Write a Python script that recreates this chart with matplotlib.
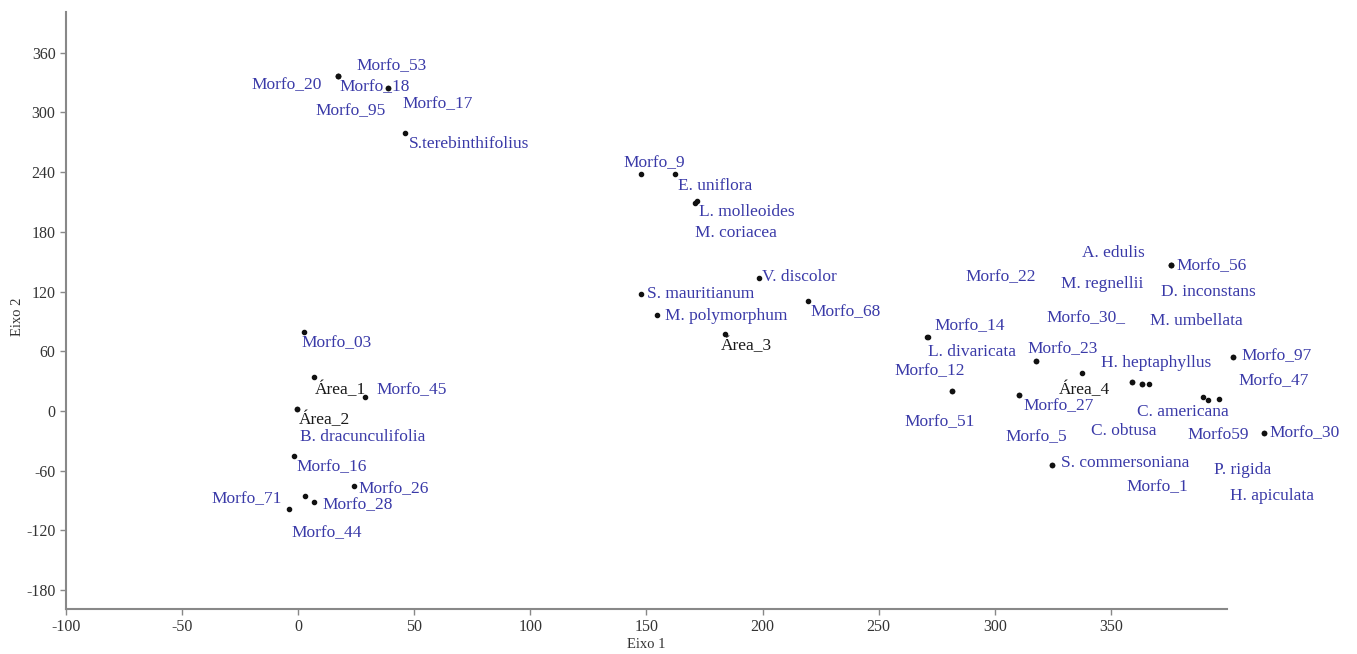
import matplotlib.pyplot as plt

# ordination scores (Eixo 1, Eixo 2)
names = [
    'Morfo_20', 'Morfo_53', 'Morfo_95', 'Morfo_18', 'Morfo_17', 'S.terebinthifolius',
    'Morfo_9', 'E. uniflora', 'L. molleoides', 'M. coriacea', 'V. discolor',
    'S. mauritianum', 'M. polymorphum', 'Morfo_68', 'Área_3',
    'Morfo_03', 'Área_1', 'Morfo_45', 'Área_2', 'B. dracunculifolia', 'Morfo_16',
    'Morfo_26', 'Morfo_28', 'Morfo_44', 'Morfo_71',
    'Morfo_14', 'L. divaricata', 'Morfo_12', 'Morfo_51', 'Morfo_23', 'Área_4',
    'Morfo_27', 'Morfo_22', 'A. edulis', 'Morfo_56', 'M. regnellii', 'D. inconstans',
    'Morfo_30_', 'M. umbellata', 'H. heptaphyllus', 'Morfo_97', 'Morfo_47',
    'C. americana', 'C. obtusa', 'Morfo_5', 'Morfo59', 'Morfo_30',
    'S. commersoniana', 'P. rigida', 'Morfo_1', 'H. apiculata',
]
eixo1 = [
    17.1, 17.1, 17.1, 38.7, 38.7, 46.0,
    147.5, 162.3, 171.6, 170.7, 198.3,
    147.6, 154.6, 219.5, 183.8,
    2.6, 6.9, 28.8, -0.4, -0.4, -1.7,
    24.0, 6.9, 3.1, -4.0,
    270.7, 271.4, 281.4, 281.4, 317.6, 337.6,
    310.6, 317.6, 375.9, 375.9, 359.2, 375.9,
    363.2, 366.5, 359.2, 402.7, 402.7,
    389.8, 363.2, 310.6, 392.0, 415.9,
    324.8, 396.7, 324.8, 415.9,
]
eixo2 = [
    336.9, 336.9, 336.9, 324.8, 324.8, 279.5,
    238.0, 238.0, 211.5, 209.0, 134.0,
    117.4, 96.8, 110.9, 77.4,
    79.7, 34.5, 13.8, 2.0, 2.0, -45.0,
    -75.4, -91.8, -85.2, -98.6,
    74.7, 73.9, 20.4, 20.4, 50.3, 38.5,
    16.1, 50.3, 146.8, 146.8, 29.5, 146.8,
    27.2, 26.9, 29.5, 54.6, 54.6,
    14.4, 27.2, 16.1, 11.1, -21.8,
    -54.3, 11.8, -54.3, -21.8,
]

# label placement (pixel offsets from each point to the label centre)
label_offsets = [
    (-51, -9), (54, 10), (13, -35), (-13, 1), (50, -16), (64, -11),
    (14, 11), (40, -12), (50, -11), (41, -30), (41, 1),
    (60, 0), (69, -1), (38, -11), (21, -12),
    (32, -11), (26, -13), (47, 7), (27, -11), (65, -28), (37, -11),
    (40, -3), (43, -3), (21, -37), (-42, 10),
    (43, 11), (44, -15), (-22, 20), (-12, -31), (27, 12), (2, -17),
    (39, -11), (-35, 84), (-58, 12), (41, -1), (-30, 98), (37, -27),
    (-56, 66), (47, 63), (24, 19), (43, 1), (40, -24),
    (-20, -15), (-18, -47), (17, -42), (10, -35), (41, 0),
    (73, 2), (23, -71), (105, -22), (8, -63),
]

plt.rcParams['font.family'] = ['Liberation Serif', 'DejaVu Serif']
plt.rcParams['axes.unicode_minus'] = False

fig = plt.figure(figsize=(13.57, 6.54), dpi=100)
ax = fig.add_axes([0.0486, 0.0688, 0.8556, 0.9129])

ax.scatter(eixo1, eixo2, s=9, color='#111111', zorder=3, clip_on=False)

for name, x, y, (dx, dy) in zip(names, eixo1, eixo2, label_offsets):
    col = '#1a1a1a' if name.startswith('Área') else '#3a3aa8'
    ax.annotate(name, (x, y), xytext=(dx, dy), textcoords='offset pixels',
                ha='center', va='center', fontsize=12.5, color=col,
                annotation_clip=False)

ax.set_xlim(-100, 400)
ax.set_ylim(-199, 401)
ax.set_xticks(range(-100, 351, 50))
ax.set_yticks(range(-180, 361, 60))

for side in ['top', 'right']:
    ax.spines[side].set_visible(False)
for side in ['left', 'bottom']:
    ax.spines[side].set_color('#888888')
    ax.spines[side].set_linewidth(1.5)
ax.tick_params(colors='#888888', length=4, width=1, labelsize=11.5,
               labelcolor='#333333')

ax.set_xlabel('Eixo 1', fontsize=10.5, color='#333333', labelpad=2)
ax.set_ylabel('Eixo 2', fontsize=10.5, color='#333333', labelpad=6)
ax.yaxis.set_label_coords(-0.036, 0.49)

fig.savefig('out.png', dpi=100)
